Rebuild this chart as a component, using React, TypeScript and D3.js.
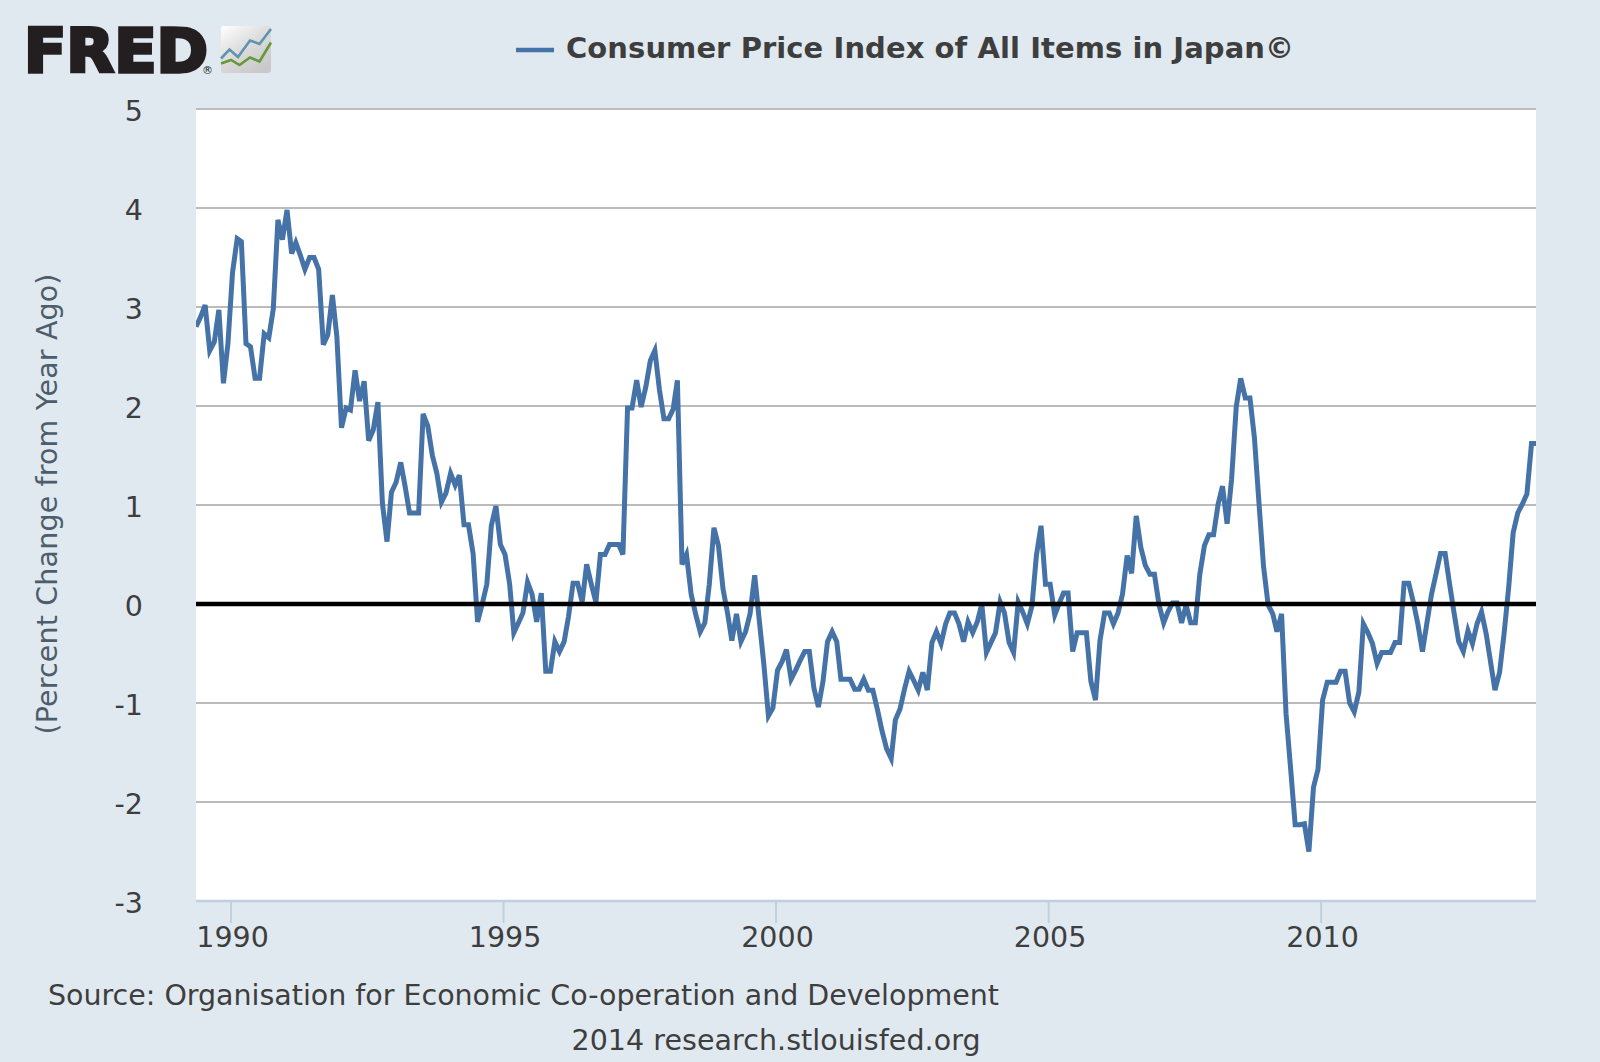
import * as d3 from 'd3'

const W = 1600, H = 1062
const m = { top: 109, right: 64, bottom: 161, left: 196 }

// percent change from a year ago, one value per month from May 1989 to Dec 2013
const startMonth = new Date(Date.UTC(1989, 4, 1))
const endMonth = new Date(Date.UTC(2013, 11, 1))
const cpiChange = [
  2.80, 2.90, 3.02, 2.56, 2.65, 2.97, 2.23, 2.63, 3.35, 3.69, 3.66, 2.63,
  2.60, 2.28, 2.28, 2.73, 2.69, 2.98, 3.88, 3.68, 3.98, 3.54, 3.65, 3.52,
  3.38, 3.50, 3.50, 3.38, 2.62, 2.72, 3.12, 2.70, 1.78, 1.98, 1.96, 2.36,
  2.05, 2.25, 1.65, 1.76, 2.04, 1.02, 0.63, 1.13, 1.23, 1.43, 1.20, 0.92,
  0.92, 0.92, 1.92, 1.80, 1.50, 1.32, 1.03, 1.12, 1.32, 1.20, 1.30, 0.80,
  0.80, 0.51, -0.18, 0.00, 0.20, 0.79, 0.99, 0.60, 0.50, 0.20, -0.29, -0.19,
  -0.09, 0.22, 0.10, -0.18, 0.11, -0.68, -0.68, -0.38, -0.48, -0.38, -0.13, 0.21,
  0.21, 0.02, 0.40, 0.20, 0.02, 0.50, 0.50, 0.60, 0.60, 0.60, 0.50, 1.98,
  1.98, 2.26, 1.99, 2.19, 2.46, 2.56, 2.16, 1.87, 1.87, 1.97, 2.26, 0.40,
  0.50, 0.10, -0.10, -0.28, -0.19, 0.20, 0.77, 0.59, 0.15, -0.10, -0.37, -0.10,
  -0.38, -0.28, -0.10, 0.29, -0.17, -0.60, -1.13, -1.05, -0.67, -0.58, -0.46, -0.76,
  -0.67, -0.57, -0.48, -0.48, -0.85, -1.04, -0.78, -0.38, -0.28, -0.38, -0.76, -0.76,
  -0.76, -0.86, -0.86, -0.76, -0.87, -0.87, -1.07, -1.28, -1.46, -1.56, -1.17, -1.06,
  -0.86, -0.68, -0.77, -0.87, -0.69, -0.87, -0.39, -0.28, -0.40, -0.20, -0.09, -0.09,
  -0.20, -0.38, -0.18, -0.29, -0.18, 0.00, -0.49, -0.39, -0.29, 0.02, -0.09, -0.39,
  -0.49, 0.02, -0.08, -0.20, -0.02, 0.49, 0.79, 0.20, 0.20, -0.11, 0.00, 0.11,
  0.11, -0.48, -0.29, -0.29, -0.29, -0.78, -0.97, -0.37, -0.09, -0.09, -0.20, -0.09,
  0.10, 0.49, 0.31, 0.89, 0.57, 0.39, 0.30, 0.30, -0.01, -0.19, -0.08, 0.01,
  0.01, -0.19, -0.01, -0.19, -0.19, 0.30, 0.59, 0.70, 0.70, 1.01, 1.19, 0.81,
  1.26, 1.99, 2.28, 2.08, 2.08, 1.68, 1.01, 0.38, -0.01, -0.10, -0.28, -0.10,
  -1.11, -1.67, -2.23, -2.23, -2.22, -2.50, -1.85, -1.67, -0.97, -0.79, -0.79, -0.79,
  -0.68, -0.68, -1.00, -1.09, -0.89, -0.20, -0.29, -0.40, -0.60, -0.49, -0.49, -0.49,
  -0.39, -0.39, 0.21, 0.21, 0.02, -0.20, -0.48, -0.19, 0.10, 0.31, 0.51, 0.51,
  0.20, -0.10, -0.38, -0.48, -0.27, -0.40, -0.20, -0.08, -0.30, -0.60, -0.87, -0.69,
  -0.30, 0.17, 0.72, 0.92, 1.01, 1.11, 1.62, 1.62,
]

const yTicks = [5, 4, 3, 2, 1, 0, -1, -2, -3]
const xTickYears = [1990, 1995, 2000, 2005, 2010]

const seriesTitle = 'Consumer Price Index of All Items in Japan©'
const yAxisTitle = '(Percent Change from Year Ago)'
const sourceNote = 'Source: Organisation for Economic Co-operation and Development'
const creditNote = '2014 research.stlouisfed.org'

// logo sparkline, in the icon's own 0-50 / 0-47 box
const logoBlue = [[0, 32.5], [8.5, 23.5], [17, 31], [29, 14.5], [38.5, 18], [50, 3]]
const logoGreen = [[0, 37.5], [10, 34], [18.5, 39], [29, 31.5], [38.5, 35.5], [50, 16.5]]

const font = '"DejaVu Sans", Verdana, sans-serif'
const textColor = '#3e3e3e'

export default function App() {
  const months = d3.utcMonth.range(startMonth, d3.utcMonth.offset(endMonth, 1))
  const x = d3.scaleUtc().domain([startMonth, endMonth]).range([m.left, W - m.right])
  const y = d3.scaleLinear().domain([-3, 5]).range([H - m.bottom, m.top])
  const line = d3.line<number>()
    .x((_, i) => x(months[i]))
    .y(d => y(d))
  const logoLine = d3.line()
  const bottom = H - m.bottom

  return (
    <svg width={W} height={H} viewBox={`0 0 ${W} ${H}`}
      style={{ position: 'absolute', left: 0, top: 0, display: 'block' }}>
      <defs>
        <linearGradient id="logoBg" x1="0" y1="0" x2="0.7" y2="1">
          <stop offset="0" stopColor="#ffffff" />
          <stop offset="0.5" stopColor="#dddddd" />
          <stop offset="1" stopColor="#c9c9c9" />
        </linearGradient>
      </defs>
      <rect width={W} height={H} fill="#e1e9f0" />

      {/* logo */}
      <text x={24} y={71.5} fontFamily={font} fontWeight={700} fontSize={60.5}
        fill="#231f20" stroke="#231f20" strokeWidth={3.4}
        textLength={184} lengthAdjust="spacingAndGlyphs">FRED</text>
      <text x={202} y={74} fontFamily={font} fontSize={11} fill="#231f20">®</text>
      <g transform="translate(221,26)">
        <rect width={50} height={47} rx={3} fill="url(#logoBg)" />
        <path d={logoLine(logoBlue as [number, number][]) ?? ''} fill="none" stroke="#5f94ae" strokeWidth={2.6} />
        <path d={logoLine(logoGreen as [number, number][]) ?? ''} fill="none" stroke="#66993c" strokeWidth={2.6} />
      </g>

      {/* legend */}
      <line x1={516} x2={554} y1={50} y2={50} stroke="#4572a7" strokeWidth={4.5} />
      <text x={566} y={58} fontFamily={font} fontWeight={700} fontSize={29}
        textLength={728} fill={textColor}>{seriesTitle}</text>

      {/* plot */}
      <rect x={m.left} y={m.top} width={W - m.left - m.right} height={bottom - m.top} fill="#fff" />
      {yTicks.filter(t => t !== 0 && t !== -3).map(t => (
        <line key={t} x1={m.left} x2={W - m.right} y1={y(t)} y2={y(t)} stroke="#bbbbbb" strokeWidth={2.2} />
      ))}
      <line x1={m.left} x2={W - m.right} y1={bottom} y2={bottom} stroke="#c0d0e0" strokeWidth={2.5} />
      {xTickYears.map(yr => {
        const tx = x(new Date(Date.UTC(yr, 0, 1)))
        return (
          <g key={yr}>
            <line x1={tx - 1.5} x2={tx - 1.5} y1={bottom + 1} y2={bottom + 22} stroke="#c0d0e0" strokeWidth={2} />
            <text x={tx} y={947} textAnchor="middle" fontFamily={font} fontSize={28.5} fill={textColor}>{yr}</text>
          </g>
        )
      })}
      {yTicks.map(t => (
        <text key={t} x={143} y={y(t) + 11.5} textAnchor="end" fontFamily={font} fontSize={28.5} fill={textColor}>{t}</text>
      ))}
      <clipPath id="plotClip">
        <rect x={m.left} y={m.top} width={W - m.left - m.right} height={bottom - m.top} />
      </clipPath>
      <path d={line(cpiChange) ?? ''} fill="none" stroke="#4572a7" strokeWidth={5}
        strokeLinejoin="miter" clipPath="url(#plotClip)" />
      <line x1={m.left} x2={W - m.right} y1={y(0)} y2={y(0)} stroke="#000" strokeWidth={4.5} />

      {/* titles */}
      <text transform="translate(57,504) rotate(-90)" textAnchor="middle" fontFamily={font}
        fontSize={28.5} textLength={461} fill="#4d5d6c">{yAxisTitle}</text>
      <text x={48} y={1005} fontFamily={font} fontSize={28.5} textLength={951} fill={textColor}>{sourceNote}</text>
      <text x={776} y={1050} textAnchor="middle" fontFamily={font} fontSize={28.5} textLength={409} fill={textColor}>{creditNote}</text>
    </svg>
  )
}
